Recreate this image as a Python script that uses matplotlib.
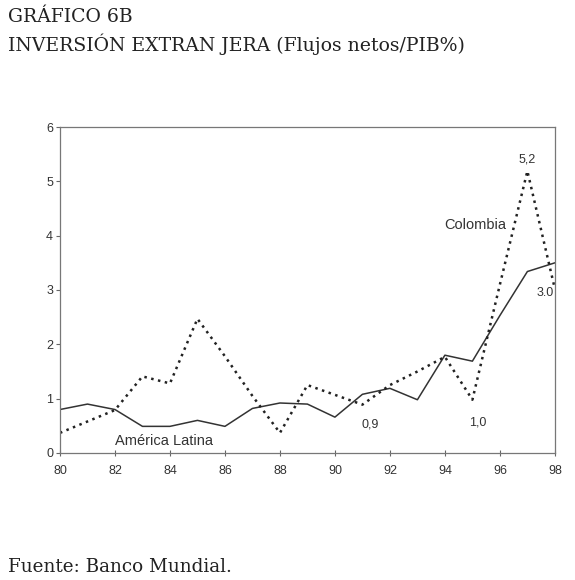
import matplotlib
matplotlib.use("Agg")
import matplotlib.pyplot as plt

years = list(range(80, 99))
america_latina = [0.80, 0.90, 0.80, 0.49, 0.49, 0.60, 0.49, 0.82, 0.92, 0.90,
                  0.66, 1.08, 1.19, 0.98, 1.80, 1.69, 2.53, 3.34, 3.50]
colombia = [0.37, 0.58, 0.79, 1.41, 1.28, 2.47, 1.78, 1.05, 0.37, 1.25,
            1.07, 0.89, 1.25, 1.50, 1.77, 0.98, 3.10, 5.19, 3.02]
xticks = [80, 82, 84, 86, 88, 90, 92, 94, 96, 98]
yticks = [0, 1, 2, 3, 4, 5, 6]

serif = ["DejaVu Serif", "Liberation Serif"]
narrow = ["Liberation Sans Narrow", "Liberation Sans", "DejaVu Sans"]

fig = plt.figure(figsize=(5.75, 5.8), dpi=100)
ax = fig.add_axes([0.1043, 0.219, 0.8607, 0.562])

ax.plot(years, america_latina, color="#333333", lw=1.1, ls="-")
ax.plot(years, colombia, color="#222222", lw=1.8, ls=(0, (1, 1.8)))

ax.set_xlim(80, 98)
ax.set_ylim(0, 6)
ax.set_xticks(xticks)
ax.set_yticks(yticks)
ax.set_xticklabels([str(t) for t in xticks], family=narrow, fontsize=9, color="#333333")
ax.set_yticklabels([str(t) for t in yticks], family=narrow, fontsize=9, color="#333333")
ax.tick_params(axis="x", direction="inout", length=5, width=0.8, color="#666666", pad=6)
ax.tick_params(axis="y", direction="out", length=3, width=0.8, color="#666666", pad=2)
for s in ax.spines.values():
    s.set_color("#777777")
    s.set_linewidth(0.9)

ax.text(83.8, 0.22, "América Latina", family=narrow, fontsize=10.5, color="#333333", ha="center", va="center")
ax.text(95.1, 4.2, "Colombia", family=narrow, fontsize=10.5, color="#333333", ha="center", va="center")
ax.text(97.0, 5.4, "5,2", family=narrow, fontsize=9, color="#333333", ha="center", va="center")
ax.text(97.65, 2.95, "3.0", family=narrow, fontsize=9, color="#333333", ha="center", va="center")
ax.text(95.2, 0.56, "1,0", family=narrow, fontsize=9, color="#333333", ha="center", va="center")
ax.text(91.3, 0.52, "0,9", family=narrow, fontsize=9, color="#333333", ha="center", va="center")

fig.text(8 / 575, 1 - 17 / 580, "GRÁFICO 6B", family=serif, fontsize=13.6, color="#222222", va="center", ha="left")
fig.text(8 / 575, 1 - 44 / 580, "INVERSIÓN EXTRAN JERA (Flujos netos/PIB%)", family=serif, fontsize=13.6,
         color="#222222", va="center", ha="left")
fig.text(8 / 575, 1 - 567 / 580, "Fuente: Banco Mundial.", family=serif, fontsize=13.2, color="#222222",
         va="center", ha="left")

fig.savefig("out.png", dpi=100)
